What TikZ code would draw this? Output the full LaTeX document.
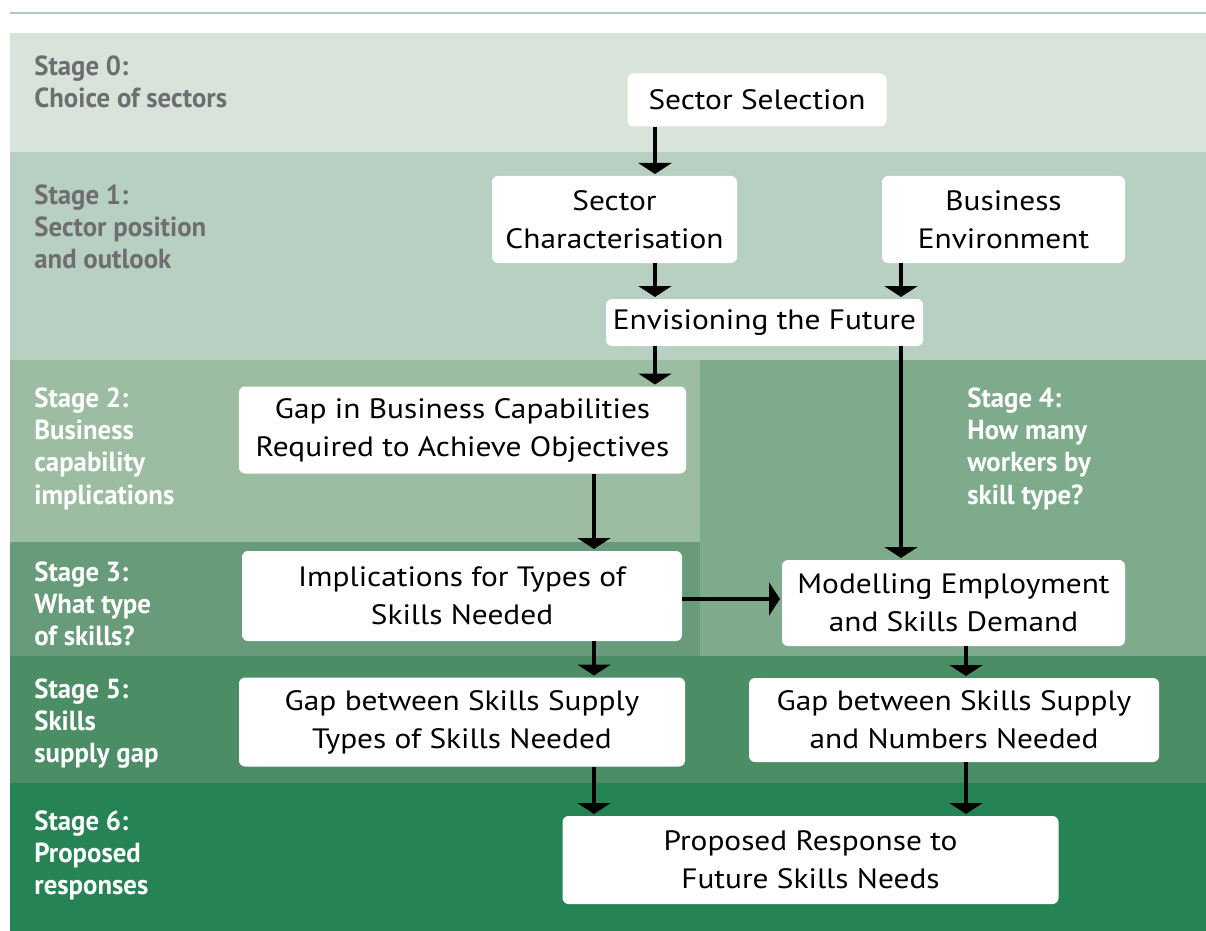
\documentclass[tikz,border=0pt]{standalone}
\usepackage{fontspec}
\setmainfont{PT Sans}
\newfontfamily\stagefont[FakeStretch=0.97]{PT Sans}
\newfontfamily\boxfont[FakeStretch=1.12]{PT Sans}
\usetikzlibrary{arrows.meta}

\definecolor{rulegreen}{HTML}{AFCAB9}
\definecolor{stagezero}{HTML}{D8E3DA}
\definecolor{stageone}{HTML}{B8D0C1}
\definecolor{stagetwo}{HTML}{9DBDA3}
\definecolor{stagethree}{HTML}{679B7A}
\definecolor{stagefour}{HTML}{7EAB8C}
\definecolor{stagefive}{HTML}{4B8E66}
\definecolor{stagesix}{HTML}{258354}
\definecolor{labelgray}{HTML}{6D6E71}

\tikzset{
    boxnode/.style={
        rectangle,
        rounded corners=3pt, % 圆角
        fill=white, % 白色填充
        inner sep=0,
        align=center,
        font=\boxfont\fontsize{14}{19}\selectfont
    },
    stagenode/.style={
        anchor=north west,
        inner sep=0,
        align=left,
        font=\stagefont\bfseries\fontsize{13.8}{16.2}\selectfont
    },
    flowarrow/.style={
        -{Triangle[width=16.5pt,length=5.5pt]},
        line width=2.2pt, % 线条加粗
        shorten >=0.8pt
    }
}

\begin{document}
\begin{tikzpicture}[x=0.5pt,y=-0.5pt]
    \useasboundingbox (0,0) rectangle (1206,931);
    % bands
    \draw[rulegreen, line width=1.3pt] (10,13) -- (1206,13);
    \fill[stagezero]  (10,33)   rectangle (1206,152);
    \fill[stageone]   (10,152)  rectangle (1206,360);
    \fill[stagetwo]   (10,360)  rectangle (700,542);
    \fill[stagefour]  (700,360) rectangle (1206,656);
    \fill[stagethree] (10,542)  rectangle (700,656);
    \fill[stagefive]  (10,656)  rectangle (1206,783);
    \fill[stagesix]   (10,783)  rectangle (1206,931);

    % stage labels
    \node[stagenode, labelgray] (s0) at (34,55)  {Stage 0:\\Choice of sectors};
    \node[stagenode, labelgray] (s1) at (34,184) {Stage 1:\\Sector position\\and outlook};
    \node[stagenode, white]     (s2) at (34,387) {Stage 2:\\Business\\capability\\implications};
    \node[stagenode, white]     (s4) at (967,387) {Stage 4:\\How many\\workers by\\skill type?};
    \node[stagenode, white]     (s3) at (34,561) {Stage 3:\\What type\\of skills?};
    \node[stagenode, white]     (s5) at (34,678) {Stage 5:\\Skills\\supply gap};
    \node[stagenode, white]     (s6) at (34,810) {Stage 6:\\Proposed\\responses};

    % boxes
    \node[boxnode, minimum width=129.5pt, minimum height=26.5pt] (sel)  at (757,100)     {Sector Selection};
    \node[boxnode, minimum width=122.5pt, minimum height=43.5pt] (char) at (614.5,219.5) {Sector\\Characterisation};
    \node[boxnode, minimum width=121.5pt, minimum height=43.5pt] (env)  at (1003.5,219.5) {Business\\Environment};
    \node[boxnode, minimum width=158.5pt, minimum height=23.5pt] (fut)  at (764.5,322.5) {Envisioning the Future};
    \node[boxnode, minimum width=223.5pt, minimum height=43.5pt] (cap)  at (462.5,430)   {Gap in Business Capabilities\\Required to Achieve Objectives};
    \node[boxnode, minimum width=220pt,   minimum height=45pt]   (impl) at (462,596)     {Implications for Types of\\Skills Needed};
    \node[boxnode, minimum width=171.5pt, minimum height=43pt]   (model) at (953.5,603)  {Modelling Employment\\and Skills Demand};
    \node[boxnode, minimum width=223pt,   minimum height=44.5pt] (gaptype) at (462,722)  {Gap between Skills Supply\\Types of Skills Needed};
    \node[boxnode, minimum width=205pt,   minimum height=42pt]   (gapnum) at (954,720)   {Gap between Skills Supply\\and Numbers Needed};
    \node[boxnode, minimum width=248pt,   minimum height=44pt]   (resp) at (810.5,860)   {Proposed Response to\\Future Skills Needs};

    % arrow columns
    \coordinate (colA) at (655,0);
    \coordinate (colB) at (901,0);
    \coordinate (colC) at (594,0);
    \coordinate (colD) at (966,0);
    \coordinate (rowE) at (0,599);

    \draw[flowarrow] (sel.south -| colA) -- (char.north -| colA);
    \draw[flowarrow] (char.south -| colA) -- (fut.north -| colA);
    \draw[flowarrow] (env.south -| colB) -- (fut.north -| colB);
    \draw[flowarrow] (fut.south -| colA) -- (cap.north -| colA);
    \draw[flowarrow] (fut.south -| colB) -- (model.north -| colB);
    \draw[flowarrow] (cap.south -| colC) -- (impl.north -| colC);
    \draw[flowarrow] (impl.east |- rowE) -- (model.west |- rowE);
    \draw[flowarrow] (impl.south -| colC) -- (gaptype.north -| colC);
    \draw[flowarrow] (model.south -| colD) -- (gapnum.north -| colD);
    \draw[flowarrow] (gaptype.south -| colC) -- (resp.north -| colC);
    \draw[flowarrow] (gapnum.south -| colD) -- (resp.north -| colD);
\end{tikzpicture}
\end{document}
